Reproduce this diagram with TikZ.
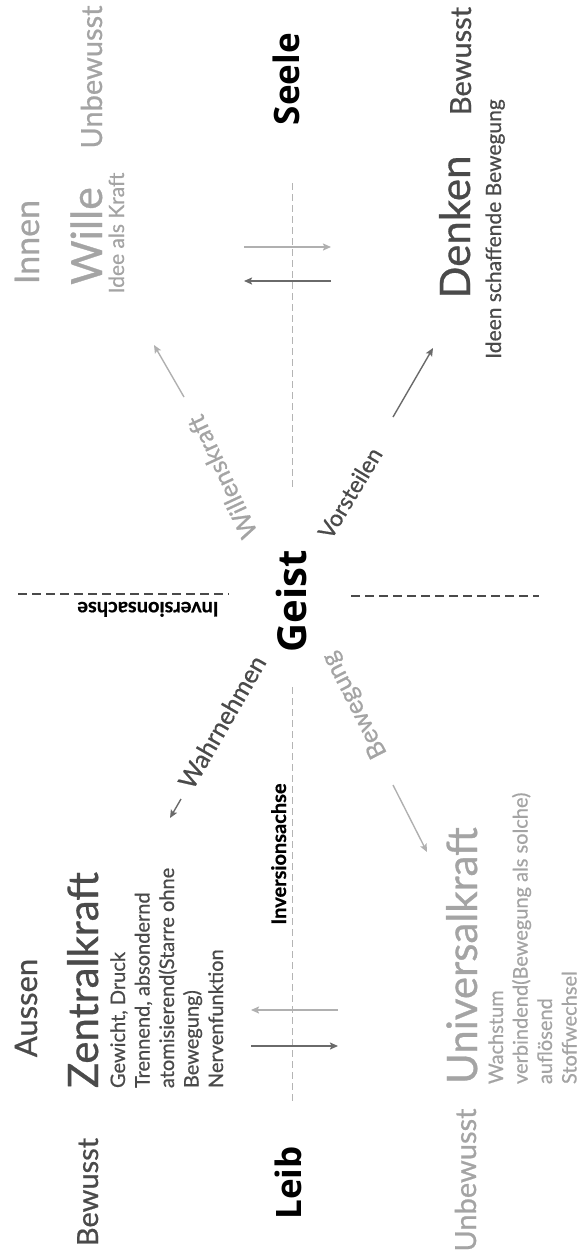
\documentclass[tikz,border=0pt]{standalone}
\usepackage{fontspec}
\setmainfont{Lato}[FakeBold=0.7]
\newfontfamily\headfont{Open Sans}
\usetikzlibrary{arrows.meta}
\definecolor{lightgr}{HTML}{A4A4A4}
\definecolor{darkgr}{HTML}{4A4A4A}
\definecolor{axisgr}{HTML}{B4B4B4}
\definecolor{arrlight}{HTML}{B0B0B0}
\definecolor{arrdark}{HTML}{6A6A6A}
\newcommand\fsz[1]{\fontsize{#1}{#1}\selectfont}

\begin{document}
\begin{tikzpicture}[x=1pt,y=-1pt,
  every node/.style={inner sep=0pt,outer sep=0pt},
  vt/.style={rotate=90,anchor=base},
  vtl/.style={rotate=90,anchor=base west},
  light/.style={text=lightgr},
  dark/.style={text=darkgr},
  pole/.style={vt,font=\headfont\bfseries\fsz{35},text=black},
  sub/.style={vtl,font=\fsz{20}},
  tipstyle/.style={-{Stealth[length=8pt,width=7pt,inset=1.5pt]}},
  diaglight/.style={tipstyle,draw=arrlight,line width=1.4pt},
  diagdark/.style={tipstyle,draw=arrdark,line width=1.4pt},
  flowlight/.style={tipstyle,draw=arrlight,line width=2pt},
  flowdark/.style={tipstyle,draw=arrdark,line width=2.6pt},
  axisv/.style={draw=axisgr,line width=1pt,dash pattern=on 7pt off 4pt},
  axish/.style={draw=darkgr,line width=2pt,dash pattern=on 9pt off 5pt},
  axislabel/.style={font=\bfseries\fsz{20},text=black}]
\useasboundingbox (0,0) rectangle (579,1259);

% upper half: Seele with Wille and Denken
\node[vt,light,font=\fsz{29}] (unbOben) at (102,77) {Unbewusst};
\node[vt,light,font=\fsz{34}] (innen) at (39,242) {Innen};
\node[vt,light,font=\fsz{43}] (wille) at (102,236) {Wille};
\node[vt,light,font=\fsz{21}] (willeSub) at (124,233) {Idee als Kraft};
\node[pole] (seele) at (299,79) {Seele};
\node[vt,dark,font=\fsz{29}] (bewOben) at (471,61) {Bewusst};
\node[vt,dark,font=\fsz{42}] (denken) at (470,227) {Denken};
\node[vt,dark,font=\fsz{21}] (denkenSub) at (501,229) {Ideen schaffende Bewegung};

% centre
\node[pole,font=\headfont\bfseries\fsz{40}] (geist) at (306,601) {Geist};
\node[axislabel,rotate=180,anchor=base] (invH) at (148,602) {Inversionsachse};
\node[axislabel,vt] (invV) at (286,854) {Inversionsachse};

% diagonal labels
\node[light,font=\fsz{25},rotate=115] (lWillenskraft) at (222,477) {Willenskraft};
\node[dark,font=\fsz{23},rotate=59] (lVorsteilen) at (350,493) {Vorsteilen};
\node[dark,font=\fsz{25},rotate=60] (lWahrnehmen) at (222,722) {Wahrnehmen};
\node[light,font=\fsz{25},rotate=117] (lBewegung) at (355,705) {Bewegung};

% lower half: Leib with Zentralkraft and Universalkraft
\node[vt,dark,font=\fsz{31}] (aussen) at (37,1008) {Aussen};
\node[vtl,dark,font=\fsz{42}] (zentral) at (98,1088) {Zentralkraft};
\node[sub,dark] (z1) at (125,1088) {Gewicht, Druck};
\node[sub,dark] (z2) at (149.5,1088) {Trennend, absondernd};
\node[sub,dark] (z3) at (174,1088) {atomisierend(Starre ohne};
\node[sub,dark] (z4) at (198.5,1088) {Bewegung)};
\node[sub,dark] (z5) at (223,1088) {Nervenfunktion};
\node[vt,dark,font=\fsz{29}] (bewUnten) at (98,1192) {Bewusst};
\node[pole] (leib) at (301,1183) {Leib};
\node[vt,light,font=\fsz{29}] (unbUnten) at (476,1180) {Unbewusst};
\node[vtl,light,font=\fsz{42}] (universal) at (477,1084) {Universalkraft};
\node[sub,light] (u1) at (503,1084) {Wachstum};
\node[sub,light] (u2) at (527.5,1084) {verbindend(Bewegung als solche)};
\node[sub,light] (u3) at (552,1084) {auflösend};
\node[sub,light] (u4) at (576.5,1084) {Stoffwechsel};

% axes
\coordinate (axTopA) at (292,183);  \coordinate (axTopB) at (292,490);
\coordinate (axBotA) at (292,687);  \coordinate (axBotB) at (292,1103);
\coordinate (axLA) at (18,594);     \coordinate (axLB) at (229,594);
\coordinate (axRA) at (351,596);    \coordinate (axRB) at (539,596);
\draw[axisv] (axTopA) -- (axTopB);
\draw[axisv] (axBotA) -- (axBotB);
\draw[axish] (axLA) -- (axLB);
\draw[axish] (axRA) -- (axRB);

% crossing flows at Seele and Leib
\coordinate (sA) at (244,247); \coordinate (sB) at (331,247);
\coordinate (sC) at (331,281); \coordinate (sD) at (244,281);
\draw[flowlight] (sA) -- (sB);
\draw[flowdark] (sC) -- (sD);
\coordinate (lA) at (338,1010); \coordinate (lB) at (251,1010);
\coordinate (lC) at (251,1046); \coordinate (lD) at (338,1046);
\draw[flowlight] (lA) -- (lB);
\draw[flowdark] (lC) -- (lD);

% diagonal arrows out of Geist
\coordinate (wkA) at (184,397); \coordinate (wkB) at (154,345);
\coordinate (vsA) at (393,417); \coordinate (vsB) at (433,348);
\coordinate (whA) at (181,799); \coordinate (whB) at (170,818);
\coordinate (bwA) at (393,785); \coordinate (bwB) at (427,852);
\draw[diaglight] (wkA) -- (wkB);
\draw[diagdark] (vsA) -- (vsB);
\draw[diagdark] (whA) -- (whB);
\draw[diaglight] (bwA) -- (bwB);
\end{tikzpicture}
\end{document}
